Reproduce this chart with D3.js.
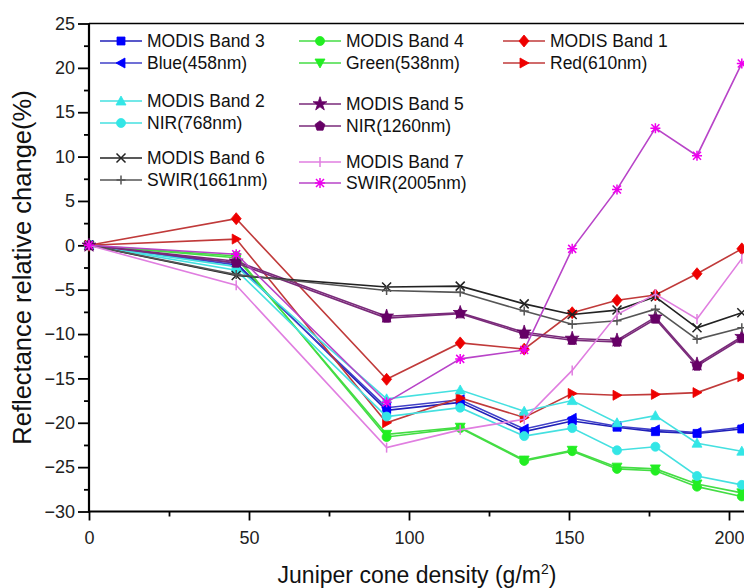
<!DOCTYPE html>
<html><head><meta charset="utf-8">
<script src="https://cdn.jsdelivr.net/npm/d3@7/dist/d3.min.js"></script>
<style>
html,body{margin:0;padding:0;background:#fff;}
svg{display:block;font-family:"Liberation Sans",Arial,sans-serif;}
</style></head>
<body><svg id="chart" width="744" height="588"></svg>
<script>
// ---- data ----
const xValues = [0, 46, 93, 116, 136, 151, 165, 177, 190, 204];
const xTicks = [0, 50, 100, 150, 200];
const yTicks = [-30, -25, -20, -15, -10, -5, 0, 5, 10, 15, 20, 25];
const seriesNames = ["MODIS Band 3","Blue(458nm)","MODIS Band 4","Green(538nm)","MODIS Band 1","Red(610nm)",
  "MODIS Band 2","NIR(768nm)","MODIS Band 5","NIR(1260nm)","MODIS Band 6","SWIR(1661nm)","MODIS Band 7","SWIR(2005nm)"];
const band3    = [0, -2.0, -18.6, -17.7, -21.0, -19.8, -20.5, -21.0, -21.2, -20.7];
const blue458  = [0, -2.2, -18.3, -17.4, -20.7, -19.5, -20.4, -20.8, -21.1, -20.5];
const band4    = [0, -1.2, -21.6, -20.6, -24.3, -23.2, -25.2, -25.4, -27.2, -28.3];
const green538 = [0, -1.4, -21.3, -20.5, -24.2, -23.1, -25.0, -25.2, -26.9, -27.9];
const band1    = [0, 3.0, -15.1, -11.0, -11.7, -7.6, -6.2, -5.6, -3.2, -0.4];
const red610   = [0, 0.7, -20.0, -17.2, -19.4, -16.7, -16.9, -16.8, -16.6, -14.8];
const band2    = [0, -2.4, -17.3, -16.3, -18.7, -17.5, -20.0, -19.2, -22.3, -23.2];
const nir768   = [0, -2.8, -19.3, -18.3, -21.5, -20.6, -23.1, -22.7, -26.0, -27.0];
const band5    = [0, -1.8, -8.0, -7.6, -9.8, -10.5, -10.7, -8.1, -13.4, -10.3];
const nir1260  = [0, -2.0, -8.2, -7.7, -10.0, -10.7, -10.9, -8.3, -13.6, -10.5];
const band6    = [0, -3.4, -4.7, -4.6, -6.6, -7.8, -7.3, -5.8, -9.3, -7.6];
const swir1661 = [0, -3.3, -5.1, -5.3, -7.4, -8.9, -8.5, -7.2, -10.6, -9.3];
const band7    = [0, -4.5, -22.8, -20.8, -19.6, -14.1, -7.8, -5.5, -8.3, -1.5];
const swir2005 = [0, -1.0, -17.7, -12.8, -11.8, -0.4, 6.3, 13.2, 10.1, 20.5];
const seriesValues = [band3, blue458, band4, green538, band1, red610, band2, nir768, band5, nir1260, band6, swir1661, band7, swir2005];

// ---- styles ----
const styles = [
  {line:"#2020b8", fill:"#0000ff", marker:"square"},
  {line:"#4040c8", fill:"#0000ff", marker:"left"},
  {line:"#44dd44", fill:"#22ee22", marker:"circle"},
  {line:"#44dd44", fill:"#22ee22", marker:"down"},
  {line:"#c03a3a", fill:"#ee0000", marker:"diamond"},
  {line:"#c03a3a", fill:"#ee0000", marker:"right"},
  {line:"#44e0e0", fill:"#33e6e6", marker:"up"},
  {line:"#44e0e0", fill:"#33e6e6", marker:"circle"},
  {line:"#7a2a7a", fill:"#660066", marker:"star"},
  {line:"#7a2a7a", fill:"#660066", marker:"pentagon"},
  {line:"#222222", fill:"none", marker:"x"},
  {line:"#555555", fill:"none", marker:"plus"},
  {line:"#e07ee0", fill:"none", marker:"bar"},
  {line:"#b844c8", fill:"none", marker:"asterisk"}
];
const legendPos = [
  [100,41],[100,63],[299,41],[299,63],[503,41],[503,63],
  [100,101],[100,123],[299,104],[299,126],[100,158],[100,180],[299,162],[299,183]
];

function markerPath(m){
  switch(m){
    case "square": return "M-4,-4H4V4H-4Z";
    case "left": return "M-5,0L4,-5L4,5Z";
    case "right": return "M5,0L-4,-5L-4,5Z";
    case "up": return "M0,-5L5,4L-5,4Z";
    case "down": return "M0,5L5,-4L-5,-4Z";
    case "diamond": return "M0,-6L5,0L0,6L-5,0Z";
    case "circle": return d3.symbol(d3.symbolCircle, 64)();
    case "star": return d3.symbol(d3.symbolStar, 60)();
    case "pentagon": {
      let p=[]; for(let i=0;i<5;i++){const a=-Math.PI/2+i*2*Math.PI/5;p.push([5.2*Math.cos(a),5.2*Math.sin(a)]);}
      return "M"+p.map(q=>q.join(",")).join("L")+"Z";
    }
    case "x": return "M-4.5,-4.5L4.5,4.5M-4.5,4.5L4.5,-4.5";
    case "plus": return "M-4.5,0H4.5M0,-4.5V4.5";
    case "bar": return "M0,-5V5";
    case "asterisk": return "M-4,-4L4,4M-4,4L4,-4M0,-5V5M-5,0H5";
  }
}
const strokeMarkers = new Set(["x","plus","bar","asterisk"]);

const svg = d3.select("#chart");
const x = d3.scaleLinear().domain([0, 205]).range([89, 745]);
const y = d3.scaleLinear().domain([-30, 25]).range([511.5, 23.5]);

// frame top
svg.append("line").attr("x1",89).attr("x2",745).attr("y1",y(25)).attr("y2",y(25)).attr("stroke","#000").attr("stroke-width",1.5);

// axes
const gx = svg.append("g").attr("transform",`translate(0,${y(-30)})`)
  .call(d3.axisBottom(x).tickValues(xTicks).tickSize(9).tickPadding(11).tickFormat(d3.format("d")));
const gxm = svg.append("g").attr("transform",`translate(0,${y(-30)})`)
  .call(d3.axisBottom(x).tickValues([25,75,125,175]).tickSize(5).tickFormat(""));
const gy = svg.append("g").attr("transform","translate(89,0)")
  .call(d3.axisLeft(y).tickValues(yTicks).tickSize(11).tickPadding(3).tickFormat(d3.format("d")));
const gym = svg.append("g").attr("transform","translate(89,0)")
  .call(d3.axisLeft(y).tickValues(yTicks.slice(0,-1).map(v=>v+2.5)).tickSize(5).tickFormat(""));
[gx,gxm,gy,gym].forEach(g=>{
  g.selectAll(".tick line").attr("stroke","#000").attr("stroke-width",1.8);
  g.selectAll(".tick text").attr("font-size",18).attr("fill","#222")
    .attr("font-family","'Liberation Sans',Arial,sans-serif");
});
gxm.select(".domain").remove(); gym.select(".domain").remove();
gy.select(".domain").attr("stroke","#000").attr("stroke-width",2.2).attr("d",`M0,${y(-30)+1}V${y(25)}`);
gx.select(".domain").attr("stroke","#000").attr("stroke-width",2.2).attr("d","M88,0H745");

// axis titles
const xt = svg.append("text").attr("x",417).attr("y",583).attr("text-anchor","middle")
  .attr("font-size",23).attr("fill","#111");
xt.append("tspan").text("Juniper cone density (g/m");
xt.append("tspan").attr("dy",-9).attr("font-size",14).text("2");
xt.append("tspan").attr("dy",9).text(")");
svg.append("text").attr("transform","translate(31,267.5) rotate(-90)").attr("text-anchor","middle")
  .attr("font-size",25.5).attr("fill","#111").text("Reflectance relative change(%)");

// lines and markers
const line = d3.line().x((d,i)=>x(xValues[i])).y(d=>y(d));
seriesValues.forEach((vals,k)=>{
  const st = styles[k];
  const g = svg.append("g");
  g.append("path").datum(vals).attr("d",line).attr("fill","none").attr("stroke",st.line).attr("stroke-width",1.6);
  const isStroke = strokeMarkers.has(st.marker);
  g.selectAll("path.m").data(vals).join("path").attr("class","m")
    .attr("transform",(d,i)=>`translate(${x(xValues[i])},${y(d)})`)
    .attr("d",markerPath(st.marker))
    .attr("fill", isStroke ? "none" : st.fill)
    .attr("stroke", isStroke ? (st.marker==="asterisk" ? "#ee00ee" : st.line) : st.fill)
    .attr("stroke-width", isStroke ? 1.5 : 0.8);
});

// legend
seriesNames.forEach((name,k)=>{
  const st = styles[k];
  const [lx,ly] = legendPos[k];
  const g = svg.append("g");
  g.append("line").attr("x1",lx).attr("x2",lx+42).attr("y1",ly).attr("y2",ly).attr("stroke",st.line).attr("stroke-width",1.6);
  const isStroke = strokeMarkers.has(st.marker);
  g.append("path").attr("transform",`translate(${lx+21},${ly})`).attr("d",markerPath(st.marker))
    .attr("fill", isStroke ? "none" : st.fill)
    .attr("stroke", isStroke ? (st.marker==="asterisk" ? "#ee00ee" : st.line) : st.fill)
    .attr("stroke-width", isStroke ? 1.5 : 0.8);
  g.append("text").attr("x",lx+47).attr("y",ly).attr("dy","0.35em").attr("font-size",17.5).attr("fill","#111").text(name);
});
</script></body></html>
